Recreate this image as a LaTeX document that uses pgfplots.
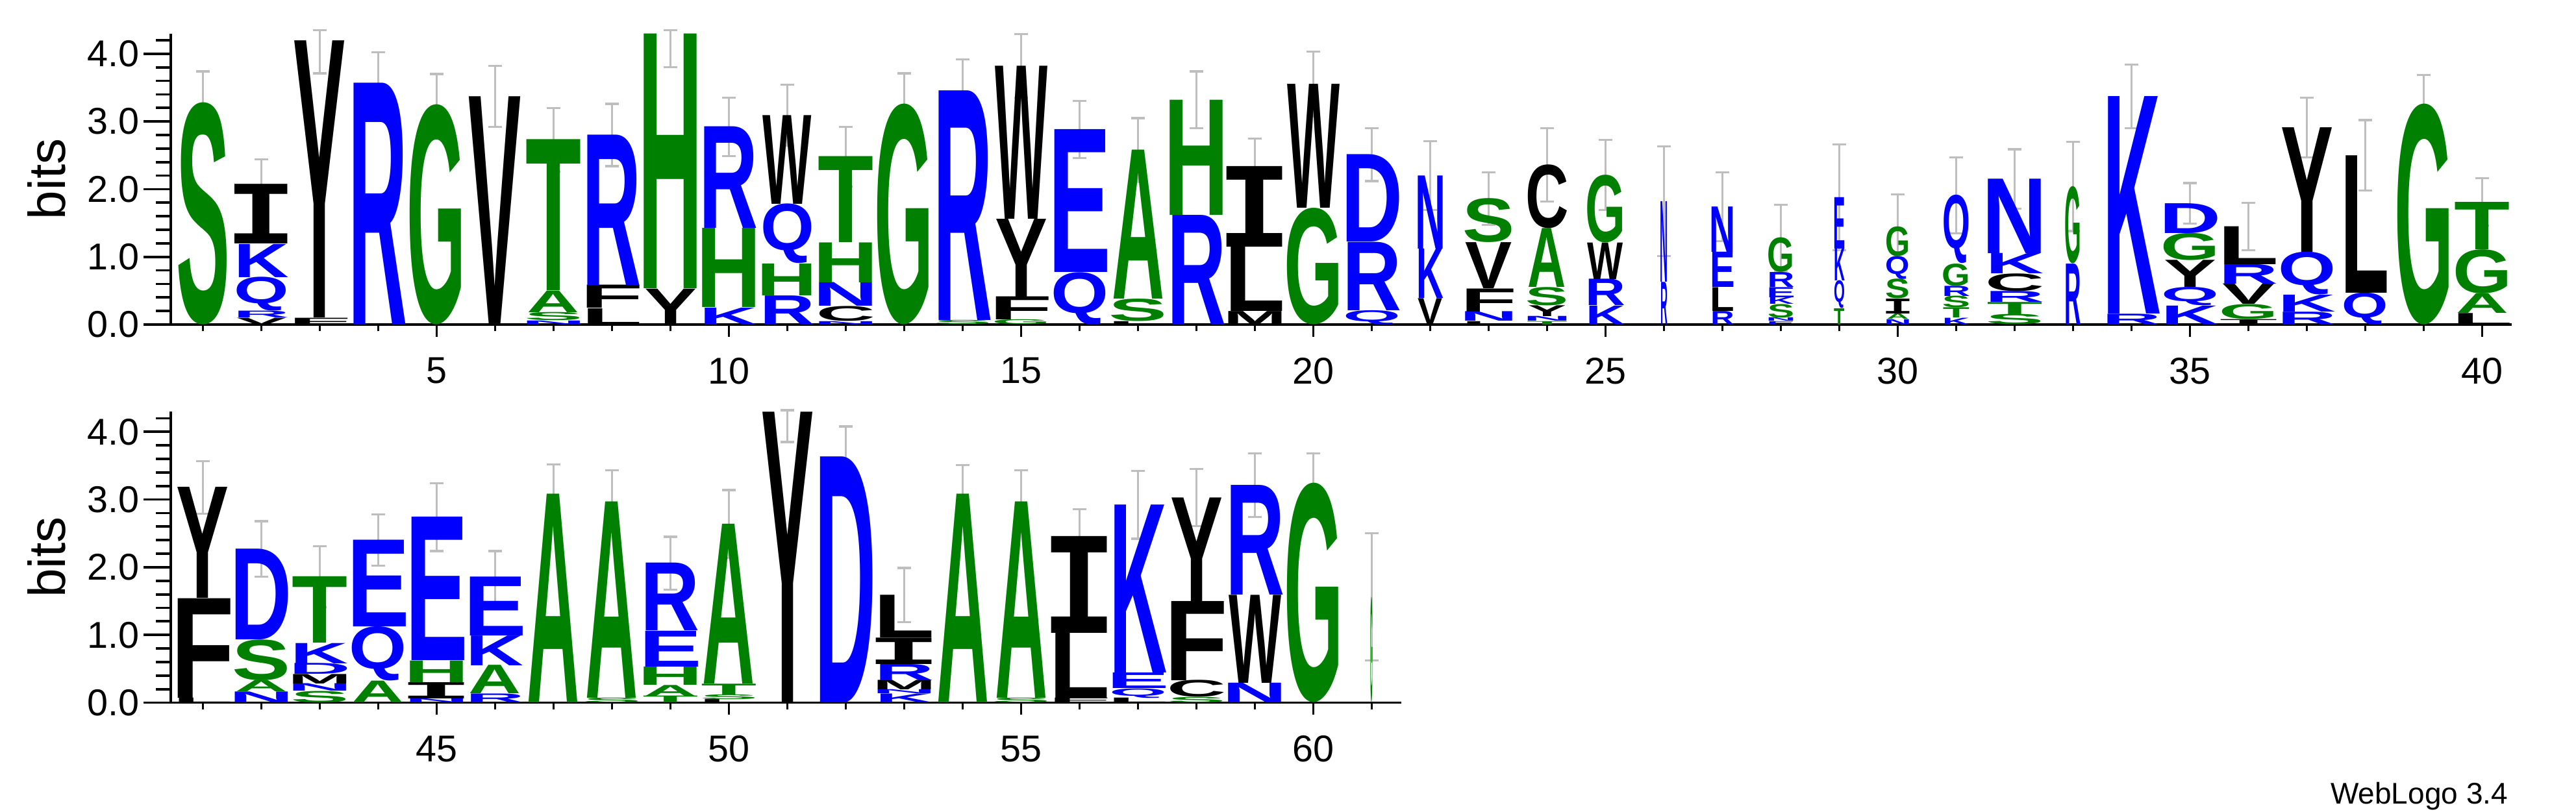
\documentclass[border=0pt]{standalone}
\usepackage{pgfplots}
\pgfplotsset{compat=1.18}
\usepackage{pgfplotstable}
\usepackage{graphicx}
\usepackage{fontspec}
\setmainfont{Liberation Sans}
\newfontfamily\wlsans{Liberation Sans}
\newfontfamily\wlmono{Liberation Mono}

\definecolor{wlblue}{RGB}{0,0,255}
\definecolor{wlgreen}{RGB}{0,128,0}
\definecolor{wlblack}{RGB}{0,0,0}
\definecolor{errgray}{RGB}{190,190,190}

\newcommand\setwl[3]{\expandafter\def\csname wlw#1\endcsname{#2}\colorlet{wl#1}{#3}}
\setwl{A}{16.2}{wlgreen}
\setwl{C}{18.2}{wlblack}
\setwl{D}{19.0}{wlblue}
\setwl{E}{19.3}{wlblue}
\setwl{F}{19.5}{wlblack}
\setwl{G}{18.2}{wlgreen}
\setwl{H}{20.0}{wlgreen}
\setwl{I}{23.0}{wlblack}
\setwl{K}{17.8}{wlblue}
\setwl{L}{18.8}{wlblack}
\setwl{M}{19.5}{wlblack}
\setwl{N}{20.0}{wlblue}
\setwl{Q}{17.8}{wlblue}
\setwl{R}{18.2}{wlblue}
\setwl{S}{18.0}{wlgreen}
\setwl{T}{17.2}{wlgreen}
\setwl{V}{16.2}{wlblack}
\setwl{W}{16.2}{wlblack}
\setwl{Y}{16.2}{wlblack}

\newdimen\wlW \newdimen\wlH
\def\wlIletter{I}
\def\wlsplit#1:#2:#3\relax{\def\wlL{#1}\def\wlh{#2}\def\wlw{#3}}
\newcommand\wlglyph[1]{%
  \edef\wltmp{#1}%
  \expandafter\wlsplit\wltmp\relax
  \pgfmathsetlength{\wlW}{\wlw*\csname wlw\wlL\endcsname pt}%
  \pgfmathsetlength{\wlH}{\wlh*20.86pt}%
  \ifx\wlL\wlIletter\def\wlfnt{\wlmono\bfseries}\else\def\wlfnt{\wlsans\bfseries}\fi
  \textcolor{wl\wlL}{\resizebox*{\wlW}{\wlH}{\wlfnt\wlL}}%
}
\newcommand\tickfont{\fontsize{11.5}{13}\selectfont}

\pgfplotstableread{
x y m
1 0 S:3.28:0.92
2 0 V:0.10:0.95
2 0.10 R:0.10:0.95
2 0.20 Q:0.50:0.95
2 0.70 K:0.49:0.95
2 1.19 I:0.88:0.95
3 0 F:0.10:1
3 0.10 Y:4.09:1
4 0 R:3.57:1
5 0 G:3.25:1
6 0 V:3.37:1
7 0 N:0.06:1
7 0.06 S:0.12:1
7 0.18 A:0.32:1
7 0.50 T:2.23:1
8 0 L:0.24:1
8 0.24 F:0.34:1
8 0.58 R:2.22:1
9 0 Y:0.53:1
9 0.53 H:3.76:1
10 0 K:0.25:1
10 0.25 H:1.17:1
10 1.42 R:1.50:1
11 0 R:0.43:0.93
11 0.43 H:0.47:0.93
11 0.90 Q:0.88:0.93
11 1.78 W:1.31:0.93
12 0 N:0.05:1
12 0.05 C:0.22:1
12 0.27 N:0.35:1
12 0.62 H:0.59:1
12 1.21 T:1.27:1
13 0 G:3.26:1
14 0 S:0.06:1
14 0.06 R:3.39:1
15 0 G:0.07:1
15 0.07 F:0.34:1
15 0.41 Y:1.15:1
15 1.56 W:2.26:1
16 0 Q:0.77:1
16 0.77 E:2.11:1
17 0 L:0.05:1
17 0.05 S:0.33:1
17 0.38 A:2.20:1
18 0 R:1.62:1
18 1.62 H:1.70:1
19 0 M:0.20:1
19 0.20 L:0.95:1
19 1.15 I:1.19:1
20 0 G:1.72:1
20 1.72 W:1.83:1
21 0 Q:0.21:1
21 0.21 R:1.01:1
21 1.22 D:1.29:1
22 0 V:0.39:0.47
22 0.39 K:0.73:0.47
22 1.12 N:1.08:0.47
23 0 L:0.05:0.89
23 0.05 N:0.14:0.89
23 0.19 F:0.34:0.89
23 0.53 V:0.68:0.89
23 1.21 S:0.65:0.89
24 0 T:0.05:0.73
24 0.05 N:0.07:0.73
24 0.12 Y:0.16:0.73
24 0.28 S:0.27:0.73
24 0.55 A:0.87:0.73
24 1.42 C:0.94:0.73
25 0 K:0.28:0.68
25 0.28 R:0.39:0.68
25 0.67 W:0.54:0.68
25 1.21 G:1.00:0.68
26 0 R:0.63:0.12
26 0.63 N:1.19:0.12
27 0 R:0.20:0.40
27 0.20 L:0.35:0.40
27 0.55 E:0.52:0.40
27 1.07 N:0.67:0.40
28 0 E:0.05:0.46
28 0.05 N:0.05:0.46
28 0.10 S:0.20:0.46
28 0.30 K:0.10:0.46
28 0.40 E:0.15:0.46
28 0.55 R:0.22:0.46
28 0.77 G:0.51:0.46
29 0 T:0.24:0.19
29 0.24 Q:0.41:0.19
29 0.65 K:0.47:0.19
29 1.12 E:0.76:0.19
30 0 N:0.08:0.42
30 0.08 A:0.08:0.42
30 0.16 I:0.22:0.42
30 0.38 S:0.29:0.42
30 0.67 Q:0.34:0.42
30 1.01 G:0.44:0.42
31 0 K:0.10:0.48
31 0.10 T:0.15:0.48
31 0.25 S:0.17:0.48
31 0.42 R:0.15:0.48
31 0.57 G:0.33:0.48
31 0.90 Q:1.01:0.48
32 0 S:0.15:1
32 0.15 T:0.18:1
32 0.33 R:0.16:1
32 0.49 C:0.26:1
32 0.75 K:0.30:1
32 1.05 N:1.10:1
33 0 R:0.90:0.28
33 0.90 G:1.14:0.28
34 0 R:0.16:1
34 0.16 K:3.21:1
35 0 K:0.28:1
35 0.28 Q:0.27:1
35 0.55 Y:0.40:1
35 0.95 G:0.40:1
35 1.35 D:0.44:1
36 0 I:0.08:1
36 0.08 G:0.22:1
36 0.30 V:0.30:1
36 0.60 R:0.29:1
36 0.89 L:0.56:1
37 0 R:0.19:1
37 0.19 K:0.25:1
37 0.44 Q:0.63:1
37 1.07 Y:1.84:1
38 0 Q:0.47:0.80
38 0.47 L:2.03:0.80
39 0 G:3.26:1
40 0 L:0.17:1
40 0.17 A:0.29:1
40 0.46 G:0.65:1
40 1.11 T:0.70:1
}\toptab

\pgfplotstableread{
x y m
41 0 L:0.07:1
41 0.07 F:1.47:1
41 1.54 Y:1.64:1
42 0 N:0.16:1
42 0.16 A:0.17:1
42 0.33 S:0.60:1
42 0.93 D:1.34:1
43 0 S:0.17:1
43 0.17 N:0.11:1
43 0.28 M:0.14:1
43 0.42 D:0.16:1
43 0.58 K:0.30:1
43 0.88 T:0.98:1
44 0 A:0.32:1
44 0.32 Q:0.80:1
44 1.12 E:1.28:1
45 0 N:0.06:1
45 0.06 I:0.24:1
45 0.30 H:0.32:1
45 0.62 E:2.12:1
46 0 R:0.13:1
46 0.13 A:0.42:1
46 0.55 K:0.44:1
46 0.99 E:0.87:1
47 0 A:3.08:1
48 0 S:0.07:1
48 0.07 A:2.90:1
49 0 T:0.10:1
49 0.10 A:0.16:1
49 0.26 H:0.27:1
49 0.53 E:0.53:1
49 1.06 R:1.00:1
50 0 L:0.05:1
50 0.05 S:0.07:1
50 0.12 T:0.16:1
50 0.28 A:2.36:1
51 0 Y:4.29:1
52 0 D:3.63:1
53 0 K:0.13:1
53 0.13 N:0.06:1
53 0.19 M:0.14:1
53 0.33 R:0.24:1
53 0.57 I:0.39:1
53 0.96 L:0.63:1
54 0 A:3.08:1
55 0 S:0.07:1
55 0.07 A:2.90:1
56 0 F:0.07:1
56 0.07 L:0.96:1
56 1.03 I:1.43:1
57 0 L:0.07:1
57 0.07 Q:0.14:1
57 0.21 E:0.23:1
57 0.44 K:2.48:1
58 0 S:0.08:1
58 0.08 C:0.25:1
58 0.33 F:1.17:1
58 1.50 Y:1.53:1
59 0 N:0.29:1
59 0.29 W:1.30:1
59 1.59 R:1.62:1
60 0 G:3.24:1
61 0 G:1.56:0.04
}\bottab

\pgfplotstableread{
x y ep em
1 3.28 0.46 0.46
2 2.07 0.37 0.37
3 4.19 0.16 0.48
4 3.57 0.45 0.45
5 3.25 0.45 0.45
6 3.37 0.45 0.45
7 2.73 0.47 0.47
8 2.80 0.46 0.46
9 4.29 0.06 0.49
10 2.92 0.43 0.43
11 3.09 0.45 0.45
12 2.48 0.44 0.44
13 3.26 0.45 0.45
14 3.45 0.47 0.47
15 3.82 0.47 0.47
16 2.88 0.42 0.42
17 2.58 0.47 0.47
18 3.32 0.42 0.42
19 2.34 0.41 0.41
20 3.55 0.48 0.48
21 2.51 0.39 0.39
22 2.20 0.51 0.51
23 1.86 0.39 0.39
24 2.36 0.54 0.54
25 2.21 0.52 0.52
26 1.82 0.81 0.81
27 1.74 0.51 0.51
28 1.28 0.49 0.49
29 1.88 0.78 0.78
30 1.45 0.47 0.47
31 1.91 0.56 0.56
32 2.15 0.44 0.44
33 2.04 0.66 0.66
34 3.37 0.47 0.47
35 1.79 0.30 0.30
36 1.45 0.35 0.35
37 2.91 0.44 0.44
38 2.50 0.52 0.52
39 3.26 0.43 0.43
40 1.81 0.35 0.35
}\toperr

\pgfplotstableread{
x y ep em
41 3.18 0.39 0.39
42 2.27 0.41 0.41
43 1.86 0.45 0.45
44 2.40 0.38 0.38
45 2.74 0.50 0.50
46 1.86 0.38 0.38
47 3.08 0.44 0.44
48 2.97 0.46 0.46
49 2.06 0.39 0.39
50 2.64 0.50 0.50
51 4.29 0.03 0.44
52 3.63 0.45 0.45
53 1.59 0.40 0.40
54 3.08 0.43 0.43
55 2.97 0.46 0.46
56 2.46 0.40 0.40
57 2.92 0.50 0.50
58 3.03 0.42 0.42
59 3.21 0.47 0.47
60 3.24 0.44 0.44
61 1.56 0.94 0.94
}\boterr

\pgfplotsset{
  logomain/.style={
    x=18pt, y=20.86pt, ymin=0, ymax=4.3, anchor=south west,
    axis x line=bottom, axis y line=left,
    axis line style={-, line width=0.75pt, black},
    ytick=\empty, tick align=outside,
    major tick length=3.7pt, minor tick length=2pt,
    tick style={black, line width=0.75pt},
    xticklabel style={font=\tickfont, inner sep=0pt, anchor=north, yshift=-6.3pt},
    clip=false,
  },
  logoy/.style={
    x=18pt, y=20.86pt, ymin=0, ymax=4.3, anchor=south west,
    axis y line=left, axis x line=none,
    axis line style={-, line width=0.75pt, black},
    xtick=\empty, ytick={0,1,2,3,4}, yticklabels={0.0,1.0,2.0,3.0,4.0},
    minor ytick={0.2,0.4,0.6,0.8,1.2,1.4,1.6,1.8,2.2,2.4,2.6,2.8,3.2,3.4,3.6,3.8,4.2},
    tick align=outside, major tick length=8.4pt, minor tick length=4.5pt,
    tick style={black, line width=0.75pt},
    yticklabel style={font=\tickfont, inner sep=0pt, anchor=east, xshift=-1.2pt},
    ylabel={bits},
    ylabel style={font=\fontsize{16}{18}\selectfont, anchor=center},
  },
  logoletters/.style={
    draw=none, mark=none, forget plot,
    point meta=explicit symbolic,
    nodes near coords={\wlglyph{\pgfplotspointmeta}},
    every node near coord/.append style={anchor=south, inner sep=0pt, outer sep=0pt},
  },
  logoerr/.style={
    only marks, mark=*, mark size=0pt, mark options={draw=none, fill=none},
    forget plot,
    error bars/y dir=both, error bars/y explicit,
    error bars/error mark=-,
    error bars/error bar style={draw=errgray, line width=0.65pt},
    error bars/error mark options={rotate=90, draw=errgray, fill=errgray, line width=0.65pt, mark size=2.1pt},
  },
}

\begin{document}
\begin{tikzpicture}
\path[use as bounding box] (-52.6pt,-150pt) rectangle (740.8pt,100pt);
% top row
\begin{axis}[logomain, at={(0pt,0pt)}, xmin=0.45, xmax=40.5,
  xtick={5,10,15,20,25,30,35,40}, xticklabels={5,10,15,20,25,30,35,40},
  minor xtick={1,...,40}]
  \addplot[logoletters] table[x=x, y=y, meta=m] {\toptab};
  \addplot[logoerr] table[x=x, y=y, y error plus=ep, y error minus=em] {\toperr};
\end{axis}
\begin{axis}[logoy, at={(0pt,0pt)}, xmin=0.45, xmax=40.5,
  ylabel style={at={(axis description cs:-0.053,0.5)}}]
  \addplot[draw=none, mark=none, forget plot] coordinates {(1,0)};
\end{axis}
% bottom row
\begin{axis}[logomain, at={(0pt,-116.5pt)}, xmin=40.45, xmax=61.5,
  xtick={45,50,55,60}, xticklabels={45,50,55,60},
  minor xtick={41,...,61}]
  \addplot[logoletters] table[x=x, y=y, meta=m] {\bottab};
  \addplot[logoerr] table[x=x, y=y, y error plus=ep, y error minus=em] {\boterr};
\end{axis}
\begin{axis}[logoy, at={(0pt,-116.5pt)}, xmin=40.45, xmax=61.5,
  ylabel style={at={(axis description cs:-0.1008,0.5)}}]
  \addplot[draw=none, mark=none, forget plot] coordinates {(41,0)};
\end{axis}
\node[anchor=base east, inner sep=0pt, font=\fontsize{9.2}{11}\selectfont] at (720pt,-147.6pt) {WebLogo 3.4};
\end{tikzpicture}
\end{document}
